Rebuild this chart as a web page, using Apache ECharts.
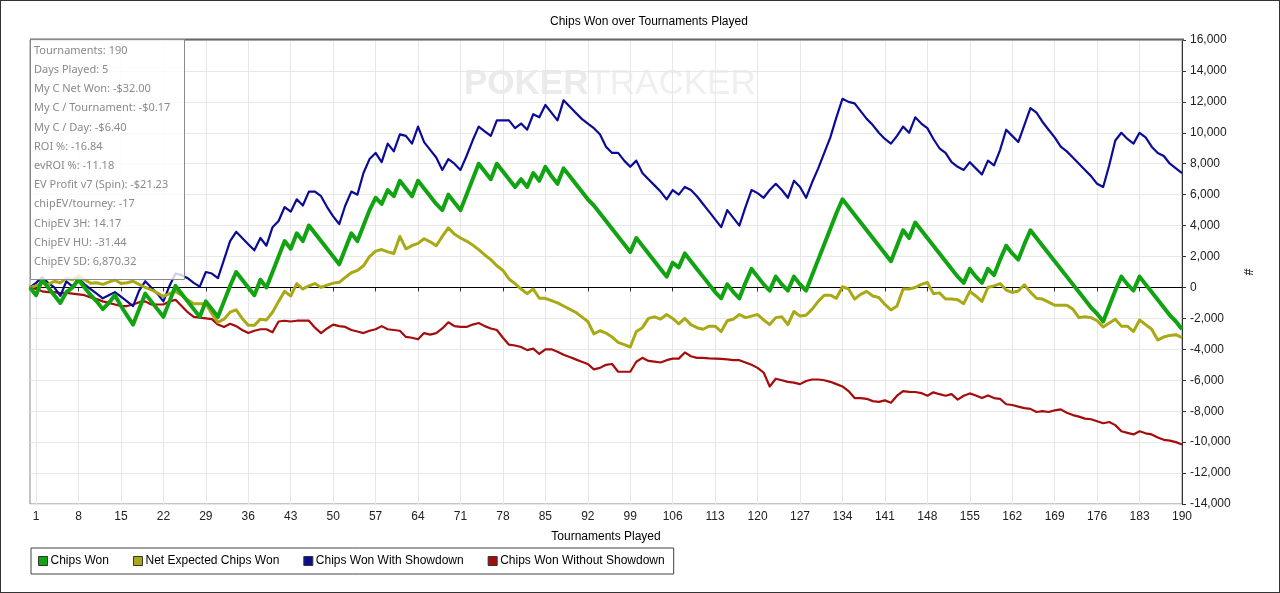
<!DOCTYPE html>
<html>
<head>
<meta charset="utf-8">
<title>Chips Won over Tournaments Played</title>
<script src="https://cdn.jsdelivr.net/npm/echarts@6/dist/echarts.min.js"></script>
<style>
  html, body { margin: 0; padding: 0; background: #fff; }
  #chart { width: 1280px; height: 593px; box-sizing: border-box; border: 1px solid #333; }
</style>
</head>
<body>
<div id="chart"></div>
<script>
// tournaments 0..190 (0 is the starting point)
const tournaments = [];
for (let i = 0; i <= 190; i++) tournaments.push(String(i));

// Chips Won
const chipsWon = [
  0, -500, 500, 0, -500, -1000, -300, 0, 500, 0,
  -500, -900, -1400, -1000, -500, -1200, -1800, -2400, -1400, -400,
  -900, -1400, -1900, -900, 100, -400, -900, -1400, -1900, -900,
  -1400, -1900, -900, 100, 1000, 500, 0, -500, 500, 0,
  1000, 2000, 3000, 2500, 3500, 3000, 4000, 3500, 3000, 2500,
  2000, 1500, 2500, 3500, 3000, 4000, 5000, 5800, 5400, 6300,
  5900, 6900, 6400, 5900, 6900, 6400, 5900, 5400, 5000, 6000,
  5500, 5000, 6000, 7000, 8000, 7500, 7000, 8000, 7500, 7000,
  6500, 7000, 6500, 7400, 6900, 7800, 7200, 6700, 7700, 7200,
  6700, 6200, 5700, 5300, 4800, 4300, 3800, 3300, 2800, 2300,
  3200, 2700, 2200, 1700, 1200, 700, 1600, 1300, 2200, 1700,
  1200, 700, 200, -300, -700, 200, -300, -700, 300, 1200,
  700, 200, -200, 700, 200, -200, 700, 200, -200, 800,
  1800, 2800, 3800, 4800, 5700, 5200, 4700, 4200, 3700, 3200,
  2700, 2200, 1700, 2700, 3700, 3200, 4200, 3700, 3200, 2700,
  2200, 1700, 1200, 700, 300, 1200, 700, 300, 1200, 800,
  1800, 2700, 2200, 1800, 2800, 3700, 3200, 2700, 2200, 1700,
  1200, 700, 200, -300, -800, -1300, -1700, -2200, -1200, -200,
  700, 200, -200, 700, 200, -300, -800, -1300, -1800, -2200,
  -2700
];

// Net Expected Chips Won
const netExpected = [
  0, 100, 300, 200, 400, 300, 600, 500, 750, 500,
  280, 300, 200, 350, 500, 250, 300, 400, 200, 0,
  -150, -350, -580, -400, -260, -500, -800, -1050, -1050, -1050,
  -1700, -2250, -2050, -1600, -1450, -2000, -2450, -2450, -2050, -2100,
  -1600, -900, -250, -550, 250, -100, 100, 250, 0, 150,
  280, 330, 650, 950, 1100, 1400, 2000, 2350, 2450, 2300,
  2200, 3300, 2500, 2700, 2850, 3150, 2950, 2700, 3300, 3850,
  3450, 3200, 3000, 2750, 2450, 2100, 1800, 1400, 1100, 550,
  250, -100, -400, -100, -700, -700, -850, -1000, -1200, -1400,
  -1600, -1900, -2200, -3000, -2800, -2950, -3200, -3550, -3700, -3850,
  -2850, -2600, -2000, -1900, -2050, -1750, -2000, -2350, -2000, -2400,
  -2600, -2700, -2500, -2500, -2850, -2150, -2050, -1750, -1950, -1850,
  -1750, -2100, -2400, -1950, -1900, -2400, -1550, -1850, -1800, -1400,
  -900, -500, -500, -700, 50, -100, -750, -450, -250, -550,
  -650, -1100, -1450, -1200, -100, -100, 0, 200, 320, -400,
  -350, -750, -750, -800, -1050, -250, -550, -900, 0, 100,
  250, -170, -320, -230, 175, -300, -700, -750, -950, -1150,
  -1150, -1150, -1400, -1950, -1900, -1950, -2150, -2550, -2300, -2050,
  -2500, -2500, -2850, -2100, -2400, -2700, -3400, -3200, -3100, -3050,
  -3250
];

// Chips Won With Showdown
const withShowdown = [
  0, 300, 650, 300, 0, -550, 400, 50, 600, 200,
  -100, -400, -700, -500, -300, -600, -900, -1200, -200, 400,
  0, -400, -900, 100, 900, 800, 600, 300, 50, 1000,
  900, 600, 1800, 3000, 3600, 3200, 2800, 2400, 3200, 2700,
  3900, 4300, 5200, 4900, 5700, 5300, 6200, 6200, 5900, 5200,
  4600, 4100, 5300, 6200, 6000, 7400, 8300, 8700, 8100, 9300,
  8800, 9900, 9800, 9300, 10400, 9400, 8900, 8400, 7600, 8300,
  8000, 7600, 8500, 9500, 10400, 10100, 9800, 10800, 10800, 10800,
  10300, 10600, 10200, 11200, 11000, 11800, 11300, 10800, 12100, 11700,
  11300, 10900, 10600, 10300, 9900, 9100, 8700, 8700, 8200, 7800,
  8200, 7400, 7000, 6600, 6200, 5700, 6300, 6000, 6500, 6300,
  5900, 5400, 4900, 4400, 3900, 5000, 4500, 4000, 5200, 6300,
  6100, 5800, 6300, 6700, 6300, 5800, 6900, 6500, 5800, 6800,
  7700, 8700, 9700, 11000, 12200, 12000, 11900, 11400, 10900, 10500,
  10000, 9600, 9300, 9800, 10400, 10000, 11000, 10600, 10300, 9600,
  9000, 8700, 8100, 7800, 7600, 8100, 7700, 7300, 8200, 7900,
  8900, 10200, 9800, 9400, 10500, 11600, 11300, 10700, 10200, 9700,
  9100, 8800, 8400, 8000, 7600, 7200, 6700, 6500, 7900, 9500,
  10000, 9600, 9300, 10000, 9700, 9100, 8700, 8500, 8000, 7700,
  7400
];

// Chips Won Without Showdown
const withoutShowdown = [
  0, -100, -250, -300, -300, -370, -350, -400, -450, -500,
  -650, -750, -900, -1000, -1100, -1200, -1200, -1100, -950, -900,
  -1100, -1100, -1100, -900, -800, -1200, -1600, -1900, -1950, -2000,
  -2050, -2400, -2550, -2350, -2500, -2750, -2950, -2800, -2700, -2700,
  -2900, -2200, -2150, -2200, -2150, -2150, -2150, -2600, -2950, -2650,
  -2400, -2500, -2550, -2750, -2850, -2950, -2800, -2700, -2500, -2700,
  -2750, -2800, -3200, -3250, -3350, -2950, -3050, -2950, -2650, -2250,
  -2500, -2550, -2550, -2400, -2300, -2500, -2650, -2750, -3250, -3700,
  -3750, -3850, -4050, -3950, -4300, -4000, -4000, -4150, -4350, -4500,
  -4650, -4800, -4950, -5300, -5200, -5000, -4950, -5450, -5450, -5450,
  -4800, -4550, -4750, -4800, -4850, -4700, -4600, -4600, -4200, -4450,
  -4550, -4550, -4580, -4600, -4620, -4650, -4700, -4700, -4850, -5000,
  -5200, -5500, -6400, -5900, -6000, -6100, -6150, -6250, -6050, -5950,
  -5950, -6000, -6100, -6250, -6400, -6700, -7150, -7150, -7200, -7350,
  -7400, -7300, -7450, -7000, -6700, -6750, -6760, -6830, -7000, -6780,
  -6900, -7000, -6900, -7250, -7000, -6850, -6980, -7150, -6980, -7150,
  -7200, -7550, -7600, -7700, -7800, -7850, -8050, -8000, -8050, -7950,
  -7880, -8100, -8250, -8350, -8480, -8520, -8650, -8780, -8700, -8900,
  -9300, -9400, -9500, -9300, -9430, -9500, -9700, -9850, -9900, -10000,
  -10150
];

// stats box on the top left
const statLines = [
  'Tournaments: 190',
  'Days Played: 5',
  'My C Net Won: -$32.00',
  'My C / Tournament: -$0.17',
  'My C / Day: -$6.40',
  'ROI %: -16.84',
  'evROI %: -11.18',
  'EV Profit v7 (Spin): -$21.23',
  'chipEV/tourney: -17',
  'ChipEV 3H: 14.17',
  'ChipEV HU: -31.44',
  'ChipEV SD: 6,870.32'
];

// x labels every 7 tournaments, starting at 1
const showTick = (i) => i >= 1 && (i - 1) % 7 === 0;

const chart = echarts.init(document.getElementById('chart'));

const lineSeries = (name, data, color, width, z) => ({
  name: name,
  type: 'line',
  data: data,
  color: color,
  showSymbol: false,
  symbol: 'none',
  z: z,
  lineStyle: { color: color, width: width, join: 'round' }
});

const series = [
  lineSeries('Chips Won', chipsWon, '#12a312', 4, 6),
  lineSeries('Net Expected Chips Won', netExpected, '#a9a915', 3, 5),
  lineSeries('Chips Won With Showdown', withShowdown, '#0b0b96', 2.2, 4),
  lineSeries('Chips Won Without Showdown', withoutShowdown, '#a50c0c', 2.2, 3)
];
// black zero line
series[0].markLine = {
  silent: true,
  symbol: 'none',
  label: { show: false },
  lineStyle: { color: '#000', width: 1, type: 'solid' },
  z: 1,
  data: [{ yAxis: 0 }]
};

chart.setOption({
  animation: false,
  backgroundColor: '#fff',
  textStyle: { fontFamily: 'Liberation Sans' },
  title: {
    text: 'Chips Won over Tournaments Played',
    left: 549,
    top: 15,
    padding: 0,
    textStyle: { fontSize: 12, fontWeight: 'normal', color: '#000', fontFamily: 'Liberation Sans' }
  },
  grid: {
    left: 29, right: 97, top: 39, bottom: 88,
    show: true, borderColor: '#888', borderWidth: 1
  },
  legend: {
    data: series.map(s => s.name),
    left: 30,
    top: 547,
    orient: 'horizontal',
    padding: [7, 9, 7, 7],
    itemGap: 24,
    itemWidth: 9,
    itemHeight: 9,
    icon: 'rect',
    borderColor: '#444',
    borderWidth: 1,
    backgroundColor: '#fff',
    itemStyle: { borderColor: '#333', borderWidth: 1 },
    textStyle: { fontSize: 12, color: '#000', fontFamily: 'Liberation Sans', padding: [0, 0, 0, -2] }
  },
  xAxis: {
    type: 'category',
    data: tournaments,
    boundaryGap: false,
    name: 'Tournaments Played',
    nameLocation: 'middle',
    nameGap: 27,
    nameTextStyle: { fontSize: 12, color: '#000' },
    axisLine: { lineStyle: { color: '#333', width: 1 } },
    axisTick: { show: true, interval: (i) => showTick(i), length: 4, lineStyle: { color: '#333' } },
    axisLabel: { interval: (i) => showTick(i), margin: 7, fontSize: 12, color: '#222' },
    splitLine: { show: true, interval: (i) => showTick(i), lineStyle: { color: '#e8e8e8', width: 1 } }
  },
  yAxis: {
    type: 'value',
    position: 'right',
    min: -14000,
    max: 16000,
    interval: 2000,
    name: '#',
    nameLocation: 'middle',
    nameGap: 56,
    nameRotate: -90,
    nameTextStyle: { fontSize: 12, color: '#000' },
    axisLine: { show: true, lineStyle: { color: '#333', width: 1 } },
    axisTick: { show: true, length: 4, lineStyle: { color: '#333' } },
    axisLabel: {
      margin: 8, fontSize: 12, color: '#222',
      formatter: (v) => v.toLocaleString('en-US')
    },
    splitLine: { show: true, lineStyle: { color: '#e8e8e8', width: 1 } }
  },
  graphic: [
    {
      // darker top edge of the plot
      type: 'line',
      z: 50,
      silent: true,
      shape: { x1: 29, y1: 38.5, x2: 1183, y2: 38.5 },
      style: { stroke: '#666', lineWidth: 2 }
    },
    {
      // faint watermark
      type: 'text',
      left: 463,
      top: 66,
      z: 0,
      silent: true,
      style: {
        text: '{a|POKER}{b|TRACKER}',
        rich: {
          a: { fontSize: 35, fontWeight: 'bold', fill: '#ebebeb', fontFamily: 'Liberation Sans' },
          b: { fontSize: 35, fontWeight: 'normal', fill: '#efefef', fontFamily: 'Liberation Sans' }
        }
      }
    },
    {
      type: 'rect',
      z: 100,
      silent: true,
      shape: { x: 29.5, y: 38.5, width: 154, height: 240 },
      style: { fill: 'rgba(255,255,255,0.8)', stroke: '#8a8a8a', lineWidth: 1 }
    },
    {
      type: 'text',
      z: 101,
      silent: true,
      x: 33,
      y: 40,
      style: {
        text: statLines.join('\n'),
        fill: '#8a8a8a',
        fontSize: 11,
        lineHeight: 19.2,
        fontFamily: 'Noto Sans',
        verticalAlign: 'top'
      }
    }
  ],
  series: series
});
</script>
</body>
</html>
